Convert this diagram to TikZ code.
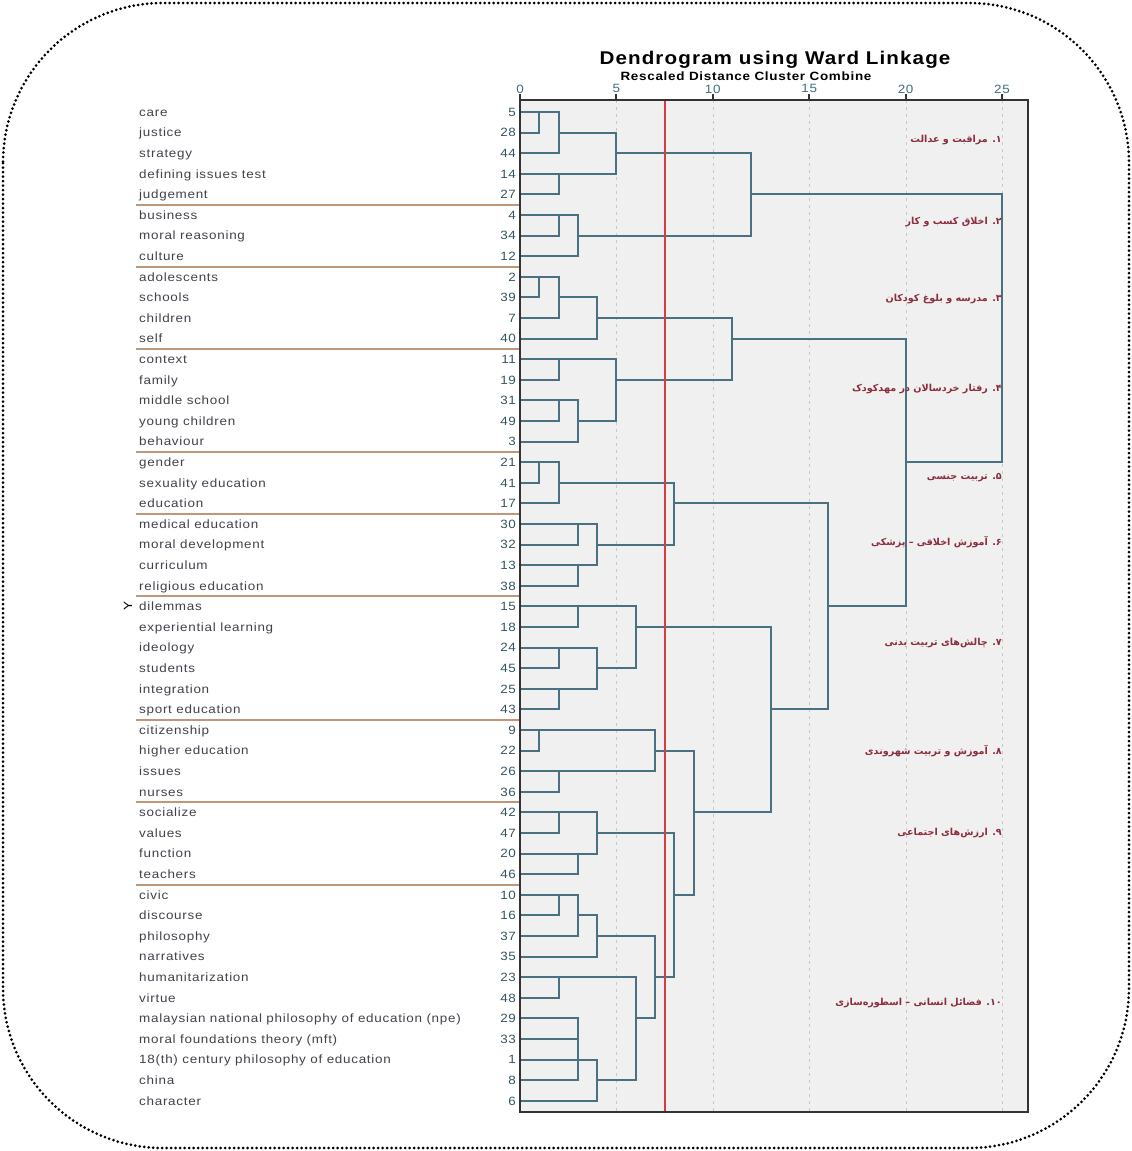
\documentclass[tikz,border=0pt]{standalone}
\usepackage{fontspec}
\setmainfont{Liberation Sans}
\newfontfamily\plotfont[FakeStretch=1.12,LetterSpace=6]{Liberation Sans}
\newfontfamily\farsi[Script=Arabic]{DejaVu Sans}
\TeXXeTstate=1
\usetikzlibrary{calc}
\definecolor{plotbg}{RGB}{240,240,240}
\definecolor{dendro}{RGB}{74,113,130}
\definecolor{leafnum}{RGB}{52,84,96}
\definecolor{leaftext}{RGB}{65,65,75}
\definecolor{axisnum}{RGB}{60,110,122}
\definecolor{sepline}{RGB}{190,150,120}
\definecolor{cutline}{RGB}{214,60,72}
\definecolor{farsired}{RGB}{140,45,60}
\definecolor{gridgray}{RGB}{200,200,200}

\begin{document}
\begin{tikzpicture}[
    x=1pt, y=-1pt,
    declare function={sx(\a)=round(19.28*\a)/19.28; sy(\a)=round(20.6*\a)/20.6;},
    leaf/.style ={anchor=west, inner sep=0pt, text height=8.6pt, text depth=0pt,
                  text=leaftext, font=\plotfont\fontsize{12}{12}\selectfont},
    leafno/.style ={anchor=east, inner sep=0pt, text height=8.6pt, text depth=0pt,
                  text=leafnum, font=\plotfont\fontsize{12}{12}\selectfont},
    axnum/.style ={inner sep=0pt, text=axisnum, font=\plotfont\fontsize{12}{12}\selectfont},
    dlink/.style ={draw=dendro, line width=1.6pt},
    sep/.style ={draw=sepline, line width=1.5pt},
    frame/.style ={draw=black!80, line width=1.3pt},
    grid/.style ={draw=gridgray, line width=1pt, dash pattern=on 3pt off 4pt},
    cut/.style ={draw=cutline, line width=1.8pt},
    farsilab/.style ={anchor=east, inner sep=0pt, text=farsired, font=\farsi\bfseries\fontsize{9.6}{10}\selectfont}
    ]

\useasboundingbox (0,0) rectangle (1132,1151);

% titles
\node (ttl) at (775,60) [font=\plotfont\bfseries\fontsize{18.4}{18}\selectfont]{Dendrogram using Ward Linkage};
\node (sub) at (746,76) [font=\plotfont\bfseries\fontsize{12}{12}\selectfont]{Rescaled Distance Cluster Combine};

\begin{scope}[shift={(520,112)}, x=19.28pt, y=-20.6pt]
\def\ytop{-0.58} % top of the plot area
\def\ybot{48.54} % bottom of the plot area
\def\xr{26.35}   % right edge of the plot area

    \fill [plotbg] (0,\ytop) rectangle (\xr,\ybot);
    \foreach \t in {5,10,...,25}{
        \draw [grid] ({sx(\t)},\ytop) -- ({sx(\t)},\ybot);
        }

    % leaves
    \foreach \lab/\num [count=\i from 0] in {care/5, justice/28, strategy/44,
        defining issues test/14, judgement/27, business/4, moral reasoning/34, culture/12,
        adolescents/2, schools/39, children/7, self/40, context/11, family/19,
        middle school/31, young children/49, behaviour/3, gender/21,
        sexuality education/41, education/17, medical education/30,
        moral development/32, curriculum/13, religious education/38, dilemmas/15,
        experiential learning/18, ideology/24, students/45, integration/25,
        sport education/43, citizenship/9, higher education/22, issues/26, nurses/36,
        socialize/42, values/47, function/20, teachers/46, civic/10, discourse/16,
        philosophy/37, narratives/35, humanitarization/23, virtue/48,
        {malaysian national philosophy of education (npe)}/29,
        {moral foundations theory (mft)}/33,
        {18(th) century philosophy of education}/1, china/8, character/6}{
        \node [leaf] (lab\i) at (-19.76,\i) {\lab};
        \node [leafno] (no\i) at (-0.2,\i) {\num};
        }
    \foreach \s in {4.5,7.5,11.5,16.5,19.5,23.5,29.5,33.5,37.5}{
        \draw [sep] (-19.9,{sy(\s)}) -- (0,{sy(\s)});
        }
    \node (ylab) at (-20.33,24) [rotate=90, inner sep=0pt, font=\plotfont\fontsize{12}{12}\selectfont]{Y};

    % merges: height / row a / height a / row b / height b
    \foreach \h/\ra/\ha/\rb/\hb in {
        1/0/0/1/0, 2/0/1/2/0, 2/3/0/4/0, 5/1/2/3/2, 2/5/0/6/0, 3/5/2/7/0, 12/2/5/6/3,
        1/8/0/9/0, 2/8/1/10/0, 4/9/2/11/0, 2/12/0/13/0, 2/14/0/15/0, 3/14/2/16/0,
        5/12/2/15/3, 11/10/4/13/5,
        1/17/0/18/0, 2/17/1/19/0, 3/20/0/21/0, 3/22/0/23/0, 4/20/3/22/3, 8/18/2/21/4,
        3/24/0/25/0, 2/26/0/27/0, 2/28/0/29/0, 4/26/2/28/2, 6/24/3/27/4,
        1/30/0/31/0, 2/32/0/33/0, 7/30/1/32/2,
        2/34/0/35/0, 3/36/0/37/0, 4/34/2/36/3,
        2/38/0/39/0, 3/38/2/40/0, 4/39/3/41/0, 2/42/0/43/0,
        3/44/0/45/0, 3/44/3/46/0, 3/45/3/47/0, 4/46/3/48/0, 6/42/2/47/4,
        7/40/4/44/6, 8/35/4/42/7, 9/31/7/38/8, 13/25/6/34/9, 16/19/8/29/13,
        20/11/11/24/16, 25/4/12/17/20}{
        \draw [dlink] ({sx(\ha)},{sy(\ra)}) -- ({sx(\h)},{sy(\ra)})
                   -- ({sx(\h)},{sy(\rb)}) -- ({sx(\hb)},{sy(\rb)});
        }

    \draw [cut] ({sx(7.5)},\ytop) -- ({sx(7.5)},\ybot);
    \draw [frame] (0,\ytop) rectangle (\xr,\ybot);
    \foreach \t in {0,5,...,25}{
        \draw [frame] ({sx(\t)},\ytop) -- ++(0,-0.3);
        \node [axnum] (ax\t) at (\t,-1.12) {\t};
        }

    % cluster names
    \node [farsilab] (c1)  at (25,1.35)  {\beginR ۱. مراقبت و عدالت\endR};
    \node [farsilab] (c2)  at (25,5.35)  {\beginR ۲. اخلاق کسب و کار\endR};
    \node [farsilab] (c3)  at (25,9.1)   {\beginR ۳. مدرسه و بلوغ کودکان\endR};
    \node [farsilab] (c4)  at (25,13.45) {\beginR ۴. رفتار خردسالان در مهدکودک\endR};
    \node [farsilab] (c5)  at (25,17.75) {\beginR ۵. تربیت جنسی\endR};
    \node [farsilab] (c6)  at (25,20.9)  {\beginR ۶. آموزش اخلاقی – پزشکی\endR};
    \node [farsilab] (c7)  at (25,25.8)  {\beginR ۷. چالش‌های تربیت بدنی\endR};
    \node [farsilab] (c8)  at (25,31)    {\beginR ۸. آموزش و تربیت شهروندی\endR};
    \node [farsilab] (c9)  at (25,35)    {\beginR ۹. ارزش‌های اجتماعی\endR};
    \node [farsilab] (c10) at (25,43.25) {\beginR ۱۰. فضائل انسانی – اسطوره‌سازی\endR};
\end{scope}

% dotted outline
\draw [line width=3pt, line cap=round, dash pattern=on 0pt off 4.5pt, rounded corners=160pt]
    (3,3) rectangle (1129,1148);
\end{tikzpicture}
\end{document}
